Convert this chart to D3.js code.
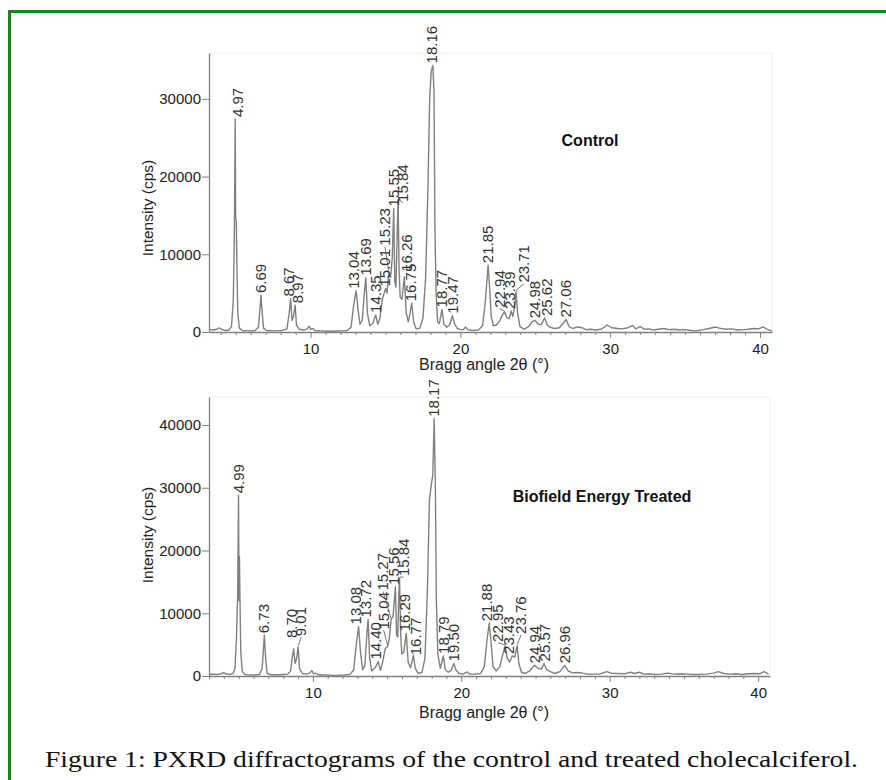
<!DOCTYPE html>
<html><head><meta charset="utf-8">
<script src="https://cdn.jsdelivr.net/npm/d3@7"></script>
<style>html,body{margin:0;padding:0;background:#fff;} svg{display:block;}</style>
</head><body>
<svg id="chart" width="886" height="780"></svg>
<script>
// ---------------- DATA ----------------
const controlScan = [[3.25,300],[3.5,250],[3.75,350],[3.9,550],[4.05,350],[4.3,200],[4.55,250],[4.72,700],[4.84,4000],[4.91,12000],[4.97,27400],[5.0,14500],[5.04,14300],[5.08,9000],[5.14,2500],[5.25,500],[5.45,200],[5.9,150],[6.3,200],[6.52,600],[6.6,2500],[6.69,4750],[6.77,2500],[6.86,500],[7.05,200],[7.6,150],[8.1,200],[8.42,400],[8.56,2200],[8.67,4300],[8.76,1500],[8.84,1800],[8.97,3450],[9.06,900],[9.25,350],[9.55,250],[9.78,400],[9.9,750],[10.02,350],[10.15,450],[10.3,200],[10.7,150],[11.3,100],[11.9,120],[12.4,150],[12.7,600],[12.88,3500],[13.04,5300],[13.16,3000],[13.3,1000],[13.45,1500],[13.58,4800],[13.69,7000],[13.79,2500],[13.95,800],[14.15,1100],[14.35,2200],[14.48,1000],[14.62,1700],[14.8,4300],[15.01,5600],[15.1,5000],[15.23,7500],[15.34,7000],[15.45,9500],[15.55,15900],[15.62,6500],[15.7,5800],[15.78,12500],[15.84,17000],[15.91,8000],[15.98,4500],[16.1,4200],[16.26,7100],[16.38,2500],[16.52,1300],[16.62,2200],[16.75,3700],[16.88,1300],[17.05,400],[17.3,500],[17.5,1800],[17.68,7000],[17.84,19000],[17.95,30000],[18.05,33500],[18.16,34300],[18.24,31000],[18.3,13400],[18.38,5000],[18.48,1300],[18.6,1100],[18.77,2900],[18.9,1000],[19.1,600],[19.3,1000],[19.47,2100],[19.62,1000],[19.8,450],[20.0,300],[20.2,300],[20.35,650],[20.5,300],[20.8,200],[21.2,250],[21.48,800],[21.66,3800],[21.85,8600],[21.96,5500],[22.06,2000],[22.2,800],[22.4,900],[22.62,1400],[22.8,2200],[22.94,2600],[23.1,1900],[23.25,1700],[23.39,2700],[23.5,2000],[23.62,3200],[23.71,5200],[23.82,2400],[23.98,700],[24.25,350],[24.55,700],[24.78,1300],[24.98,1500],[25.2,1000],[25.4,950],[25.62,1800],[25.8,900],[26.0,600],[26.3,450],[26.6,550],[26.85,1100],[27.06,1600],[27.25,700],[27.5,450],[27.8,650],[28.1,550],[28.4,300],[28.7,350],[29.0,250],[29.4,350],[29.8,900],[30.1,550],[30.5,450],[30.8,400],[31.2,550],[31.5,850],[31.7,400],[32.0,700],[32.3,350],[32.6,400],[32.9,250],[33.2,350],[33.6,450],[33.9,300],[34.3,350],[34.6,250],[35.0,300],[35.4,200],[35.8,150],[36.2,300],[36.6,450],[37.0,650],[37.3,500],[37.7,350],[38.1,400],[38.5,250],[38.9,300],[39.2,350],[39.6,450],[39.9,400],[40.2,650],[40.5,350],[40.8,100]];

const treatedScan = [[3.0,250],[3.3,300],[3.6,250],[3.85,400],[4.0,550],[4.15,350],[4.4,250],[4.62,400],[4.75,1200],[4.85,6000],[4.93,13000],[4.99,28800],[5.02,12000],[5.05,19000],[5.09,11600],[5.14,4000],[5.24,700],[5.45,200],[6.0,150],[6.4,250],[6.58,1200],[6.66,4000],[6.73,6500],[6.81,3000],[6.92,400],[7.2,200],[7.8,200],[8.3,300],[8.5,800],[8.6,2800],[8.70,4300],[8.8,2000],[8.9,2800],[9.01,4600],[9.1,1200],[9.3,400],[9.6,300],[9.8,500],[9.92,850],[10.05,350],[10.18,450],[10.35,200],[10.8,150],[11.5,100],[12.1,150],[12.5,250],[12.75,1000],[12.92,5000],[13.08,7900],[13.2,4000],[13.35,1000],[13.5,1600],[13.62,6000],[13.72,9000],[13.82,3000],[13.96,800],[14.2,1300],[14.4,2300],[14.55,900],[14.7,2200],[14.88,4400],[15.04,4700],[15.15,6000],[15.27,9000],[15.4,9500],[15.56,14200],[15.64,6500],[15.72,6200],[15.79,13000],[15.84,15600],[15.91,7000],[15.99,3500],[16.12,3800],[16.29,6800],[16.42,2200],[16.58,1300],[16.67,2200],[16.77,3300],[16.9,1200],[17.1,400],[17.35,600],[17.55,2800],[17.72,14000],[17.85,28000],[17.98,30500],[18.08,32000],[18.17,41000],[18.25,31000],[18.32,12000],[18.42,3500],[18.58,1200],[18.79,3200],[18.92,1000],[19.12,600],[19.32,900],[19.5,2000],[19.65,900],[19.85,400],[20.1,300],[20.4,650],[20.55,300],[20.9,300],[21.3,400],[21.55,1500],[21.72,5500],[21.88,8400],[22.0,5500],[22.14,1500],[22.35,800],[22.6,1500],[22.8,3500],[22.95,4800],[23.1,2800],[23.25,2200],[23.43,3200],[23.6,3000],[23.76,4800],[23.88,2000],[24.05,600],[24.3,400],[24.6,800],[24.94,1700],[25.2,1200],[25.4,1100],[25.57,2000],[25.75,1000],[26.0,700],[26.3,400],[26.65,700],[26.96,1700],[27.2,800],[27.5,500],[27.8,550],[28.1,500],[28.5,300],[28.9,300],[29.3,300],[29.8,700],[30.1,450],[30.5,400],[31.0,350],[31.4,600],[31.7,400],[32.0,600],[32.3,300],[32.7,350],[33.0,250],[33.5,300],[33.9,450],[34.3,300],[34.8,350],[35.2,300],[35.6,250],[36.0,250],[36.5,300],[37.0,450],[37.3,700],[37.7,400],[38.1,300],[38.5,350],[38.9,250],[39.3,350],[39.7,400],[40.1,350],[40.4,700],[40.7,300]];

const controlPeaks = [4.97,6.69,8.67,8.97,13.04,13.69,14.35,15.01,15.23,15.55,15.84,16.26,16.75,18.16,18.77,19.47,21.85,22.94,23.39,23.71,24.98,25.62,27.06];
const controlPeakIntensity = [27400,4750,4300,3450,5300,7000,2200,5600,7500,15900,17000,7100,3700,34300,2900,2100,8600,2600,2700,5200,1500,1800,1600];
const treatedPeaks = [4.99,6.73,8.70,9.01,13.08,13.72,14.40,15.04,15.27,15.56,15.84,16.29,16.77,18.17,18.79,19.50,21.88,22.95,23.43,23.76,24.94,25.57,26.96];
const treatedPeakIntensity = [28800,6500,4300,4600,7900,9000,2300,4700,9000,14200,15600,6800,3300,41000,3200,2000,8400,4800,3200,4800,1700,2000,1700];

const xTickValues = [10,20,30,40];
const controlYTicks = [0,10000,20000,30000];
const treatedYTicks = [0,10000,20000,30000,40000];
const panelTitles = ["Control","Biofield Energy Treated"];
const xAxisTitle = "Bragg angle 2\u03b8 (\u00b0)";
const yAxisTitle = "Intensity (cps)";
const captionText = "Figure 1: PXRD diffractograms of the control and treated cholecalciferol.";

// ---------------- LAYOUT ----------------
const svg = d3.select("#chart");
svg.append("rect").attr("width",886).attr("height",780).attr("fill","#fff");
// green frame (only top & left edges visible in the crop)
svg.append("path").attr("d","M9.5,790 L9.5,11.5 L900,11.5").attr("fill","none")
  .attr("stroke","#17871a").attr("stroke-width",3);

const fontSans = "'Liberation Sans', Arial, sans-serif";
const lineColor = "#808080";

const panels = [
  {scan: controlScan, peaks: controlPeaks, peakI: controlPeakIntensity, yTicks: controlYTicks,
   xDom:[3.22,40.8], xRange:[209,772], yDom:[0,35900], yRange:[332,53], title: panelTitles[0],
   titlePos:[590,146], yTitleY:208, xTitleY:370,
   nudges:{"4.97":[3,0],"8.67":[-2,0],"8.97":[3,0],"13.04":[-2,0],"15.01":[-1,0],"15.23":[-4,26,1],
           "15.84":[5,-4,1],"16.26":[2,3],"16.75":[-1,0],"18.16":[-1,0],"22.94":[-5,2,1],"23.39":[-1,0],
           "23.71":[8,7,1],"25.62":[2,0]}},
  {scan: treatedScan, peaks: treatedPeaks, peakI: treatedPeakIntensity, yTicks: treatedYTicks,
   xDom:[3.0,40.8], xRange:[209,770], yDom:[0,44500], yRange:[676,396.8], title: panelTitles[1],
   titlePos:[602,502], yTitleY:535, xTitleY:718,
   nudges:{"6.73":[-1,0],"8.70":[-2,9],"9.01":[3,9,1],"13.08":[-3,0],"13.72":[-2,0],"14.40":[-2,0],
           "15.04":[-4,15,1],"15.27":[-8,27,1],"15.56":[-2,0],"15.84":[4,0,1],"16.29":[-1,0],"16.77":[2,-2],
           "21.88":[-2,0],"22.95":[-7,2,1],"23.43":[-3,0],"23.76":[4,10,1],"25.57":[1,0]}}
];

const fmt = d3.format(".2f");

panels.forEach(p => {
  const x = d3.scaleLinear().domain(p.xDom).range(p.xRange);
  const y = d3.scaleLinear().domain(p.yDom).range(p.yRange);
  const g = svg.append("g");

  // faint plot frame (top & right)
  g.append("path")
    .attr("d",`M${p.xRange[0]},${p.yRange[1]} L${p.xRange[1]},${p.yRange[1]} L${p.xRange[1]},${p.yRange[0]}`)
    .attr("fill","none").attr("stroke","#f0f0f0").attr("stroke-width",1);

  // minor x ticks
  const minor = d3.range(Math.ceil(p.xDom[0]), Math.floor(p.xDom[1])+1).filter(v => v%10!==0);
  g.append("g").attr("transform",`translate(0,${p.yRange[0]})`)
    .call(d3.axisBottom(x).tickValues(minor).tickSize(3).tickSizeOuter(0).tickFormat(""))
    .call(a => a.select(".domain").remove())
    .call(a => a.selectAll("line").attr("stroke",lineColor));

  // major x axis
  g.append("g").attr("transform",`translate(0,${p.yRange[0]})`)
    .call(d3.axisBottom(x).tickValues(xTickValues).tickSize(6).tickSizeOuter(0).tickPadding(5))
    .call(a => a.select(".domain").attr("stroke",lineColor).attr("stroke-width",1.3))
    .call(a => a.selectAll("line").attr("stroke",lineColor))
    .call(a => a.selectAll("text").attr("font-family",fontSans).attr("font-size",15).attr("fill","#222"));

  // y axis
  g.append("g").attr("transform",`translate(${p.xRange[0]},0)`)
    .call(d3.axisLeft(y).tickValues(p.yTicks).tickSize(7).tickSizeOuter(0).tickPadding(1).tickFormat(d3.format("d")))
    .call(a => a.select(".domain").attr("stroke",lineColor).attr("stroke-width",1.3))
    .call(a => a.selectAll("line").attr("stroke",lineColor))
    .call(a => a.selectAll("text").attr("font-family",fontSans).attr("font-size",15).attr("fill","#222"));

  // diffractogram
  const line = d3.line().x(d => x(d[0])).y(d => y(d[1]));
  g.append("path").datum(p.scan).attr("d",line).attr("fill","none")
    .attr("stroke",lineColor).attr("stroke-width",1.4).attr("stroke-linejoin","round");

  // peak labels
  p.peaks.forEach((pk,i) => {
    const key = fmt(pk);
    const nd = p.nudges[key] || [0,0];
    const px = x(pk), py = y(p.peakI[i]);
    const lx = px + nd[0], ly = py - 2 - nd[1];
    if (nd[2]) {
      g.append("line").attr("x1",lx).attr("y1",ly+1).attr("x2",px).attr("y2",py-1)
        .attr("stroke","#555").attr("stroke-width",0.8);
    }
    g.append("text").attr("transform",`translate(${lx},${ly}) rotate(-90)`)
      .attr("dy","0.35em").attr("text-anchor","start")
      .attr("font-family",fontSans).attr("font-size",15).attr("fill","#333").text(key);
  });

  // panel title
  g.append("text").attr("x",p.titlePos[0]).attr("y",p.titlePos[1]).attr("text-anchor","middle")
    .attr("font-family",fontSans).attr("font-weight","bold").attr("font-size",16).attr("fill","#111")
    .text(p.title);

  // axis titles
  g.append("text").attr("transform",`translate(148,${p.yTitleY}) rotate(-90)`).attr("dy","0.35em")
    .attr("text-anchor","middle").attr("font-family",fontSans).attr("font-size",15.5).attr("fill","#222")
    .text(yAxisTitle);
  g.append("text").attr("x",484).attr("y",p.xTitleY).attr("text-anchor","middle")
    .attr("font-family",fontSans).attr("font-size",16).attr("fill","#222").text(xAxisTitle);
});

// caption
svg.append("text").attr("x",45).attr("y",767)
  .attr("font-family","'Liberation Serif', 'Times New Roman', serif").attr("font-size",24).attr("fill","#111")
  .attr("textLength",813).attr("lengthAdjust","spacingAndGlyphs").text(captionText);
</script>
</body></html>
